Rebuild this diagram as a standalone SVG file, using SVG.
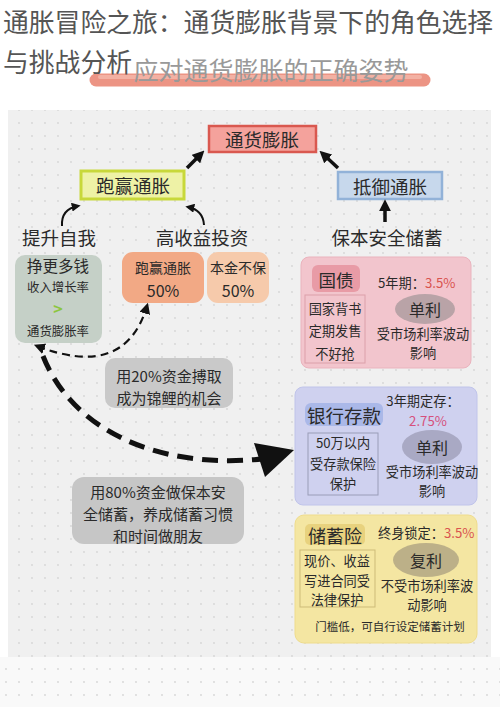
<svg xmlns="http://www.w3.org/2000/svg" width="500" height="707" viewBox="0 0 500 707">
<defs>
<pattern id="dots" x="0" y="0" width="13" height="13" patternUnits="userSpaceOnUse">
<circle cx="6" cy="6" r="0.9" fill="#d6d6d6"/>
</pattern>
<marker id="ah" viewBox="0 0 10 10" refX="7" refY="5" markerWidth="9" markerHeight="9" markerUnits="userSpaceOnUse" orient="auto">
<path d="M0,0 L10,5 L0,10 z" fill="#111"/>
</marker>
<marker id="ahs" viewBox="0 0 10 10" refX="7" refY="5" markerWidth="11" markerHeight="11" markerUnits="userSpaceOnUse" orient="auto-start-reverse">
<path d="M0,0 L10,5 L0,10 z" fill="#111"/>
</marker>
<marker id="ahb" viewBox="0 0 10 10" refX="6" refY="5" markerWidth="12" markerHeight="12" markerUnits="userSpaceOnUse" orient="auto">
<path d="M0,0 L10,5 L0,10 z" fill="#111"/>
</marker>
</defs>
<style>
text{font-family:"Noto Sans CJK SC","Noto Sans",sans-serif;fill:#2a2a2a;text-anchor:middle;dominant-baseline:central}
.t13{font-size:13.2px}
.t12{font-size:11.5px}
.hd{font-size:18.5px}
.bx{font-size:18.5px}
.lab{font-size:15px}
.red{fill:#d9534f}
.inner{fill:none;stroke-width:1}
.con{fill:none;stroke:#111}
</style>
<rect x="0" y="0" width="500" height="707" fill="#ffffff"/>
<rect x="0" y="657" width="500" height="50" fill="#f9f9f9"/>
<rect x="0" y="657" width="500" height="50" fill="url(#dots)"/>
<rect x="8" y="110" width="483" height="547" fill="#f0f0f0"/>
<rect x="8" y="110" width="483" height="547" fill="url(#dots)"/>

<g id="banner">
<line x1="96" y1="80" x2="424" y2="80" stroke="#e9826f" stroke-width="13" stroke-linecap="round" opacity="0.85"/>
<line x1="100" y1="77" x2="420" y2="77" stroke="#f3b1a3" stroke-width="4" stroke-linecap="round"/>
<text x="271" y="69" style="font-size:25px;fill:#999999">应对通货膨胀的正确姿势</text>
</g>
<g id="title">
<text x="3" y="20" style="font-size:25.8px;fill:#555555;text-anchor:start">通胀冒险之旅：通货膨胀背景下的角色选择</text>
<text x="3" y="60" style="font-size:25.8px;fill:#555555;text-anchor:start">与挑战分析</text>
</g>

<g id="node-inflation">
<rect x="209" y="126" width="107" height="26" fill="#f4a29c" stroke="#d9584f" stroke-width="2.5"/>
<text class="bx" x="262" y="139">通货膨胀</text>
</g>
<g id="node-beat">
<rect x="81" y="171" width="103" height="28" fill="#eef2a6" stroke="#c8d83a" stroke-width="3"/>
<text class="bx" x="133" y="185">跑赢通胀</text>
</g>
<g id="node-resist">
<rect x="338" y="172" width="104" height="27" fill="#c7d8ec" stroke="#92b2d8" stroke-width="2.5"/>
<text class="bx" x="390" y="185.5">抵御通胀</text>
</g>

<g id="node-self">
<text class="hd" x="59" y="237">提升自我</text>
</g>
<g id="node-highyield">
<text class="hd" x="202" y="237">高收益投资</text>
</g>
<g id="node-safe">
<text class="hd" x="387" y="237">保本安全储蓄</text>
</g>

<g id="node-earn">
<rect x="15" y="255" width="87" height="88" rx="10" fill="#c5d0c7"/>
<text x="58" y="265" style="font-size:15.5px">挣更多钱</text>
<text x="58" y="287" style="font-size:12.4px">收入增长率</text>
<text x="58" y="308" style="font-size:16px;font-weight:bold;fill:#8cc63f">&gt;</text>
<text x="58" y="330.5" style="font-size:12.4px">通货膨胀率</text>
</g>
<g id="node-beat50">
<rect x="122" y="252" width="82" height="51" rx="11" fill="#f2a985"/>
<text x="163" y="267" style="font-size:14px">跑赢通胀</text>
<text x="163" y="290" style="font-size:16px">50%</text>
</g>
<g id="node-lose50">
<rect x="207" y="252" width="62" height="51" rx="11" fill="#f6caab"/>
<text x="238" y="267" style="font-size:14px">本金不保</text>
<text x="238" y="290" style="font-size:16px">50%</text>
</g>

<g id="label-20">
<rect x="105" y="358" width="128" height="50" rx="10" fill="#c9c9c9"/>
<text class="lab" x="169" y="375">用20%资金搏取</text>
<text class="lab" x="169" y="397">成为锦鲤的机会</text>
</g>
<g id="label-80">
<rect x="72" y="477" width="172" height="67" rx="12" fill="#c6c6c6"/>
<text class="lab" x="158" y="491">用80%资金做保本安</text>
<text class="lab" x="158" y="513">全储蓄，养成储蓄习惯</text>
<text class="lab" x="158" y="535">和时间做朋友</text>
</g>

<g id="node-bond">
<rect x="301" y="257" width="170" height="111" rx="8" fill="#f2c5cd" stroke="#eab3bd" stroke-width="1"/>
<rect x="312" y="265" width="48" height="27" rx="6" fill="#e89ba6"/>
<text x="336" y="279" style="font-size:17.5px">国债</text>
<text class="t13" x="378" y="282" style="text-anchor:start">5年期：<tspan class="red">3.5%</tspan></text>
<rect class="inner" x="305" y="295" width="60" height="68" stroke="#dba0aa"/>
<text class="t13" x="335" y="308">国家背书</text>
<text class="t13" x="335" y="330">定期发售</text>
<text class="t13" x="335" y="353">不好抢</text>
<ellipse cx="425" cy="309" rx="30" ry="15" fill="#b9a3a7"/>
<text x="425" y="309" style="font-size:16px">单利</text>
<text class="t13" x="423" y="333">受市场利率波动</text>
<text class="t13" x="423" y="352.5">影响</text>
</g>

<g id="node-bank">
<rect x="295" y="387" width="182" height="118" rx="8" fill="#cfd1ef" stroke="#c0c4ea" stroke-width="1"/>
<rect x="305" y="403" width="78" height="23" rx="6" fill="#aab8e8"/>
<text x="344" y="414.5" style="font-size:18.5px">银行存款</text>
<text class="t13" x="423" y="400.5">3年期定存：</text>
<text class="t13" x="428" y="420" style="fill:#d6507c">2.75%</text>
<rect class="inner" x="308" y="433" width="70" height="62" stroke="#9a9db8"/>
<text class="t13" x="343" y="442">50万以内</text>
<text class="t13" x="343" y="463">受存款保险</text>
<text class="t13" x="343" y="483">保护</text>
<ellipse cx="432" cy="447" rx="30" ry="17" fill="#a9a9c4"/>
<text x="432" y="447" style="font-size:16px">单利</text>
<text class="t13" x="432" y="471">受市场利率波动</text>
<text class="t13" x="432" y="490.5">影响</text>
</g>

<g id="node-insurance">
<rect x="295" y="515" width="182" height="128" rx="9" fill="#f4e6a2" stroke="#efdc8c" stroke-width="1"/>
<rect x="305" y="524" width="60" height="21" rx="5" fill="#e8d27e"/>
<text x="335" y="534.5" style="font-size:18px">储蓄险</text>
<text class="t13" x="378" y="532" style="text-anchor:start">终身锁定：<tspan class="red">3.5%</tspan></text>
<rect class="inner" x="300" y="550" width="75" height="57" stroke="#cdbb78"/>
<text class="t13" x="337" y="560.5">现价、收益</text>
<text class="t13" x="337" y="580">写进合同受</text>
<text class="t13" x="337" y="599.5">法律保护</text>
<ellipse cx="426" cy="560" rx="33" ry="17" fill="#bcb088"/>
<text x="426" y="560" style="font-size:16px">复利</text>
<text class="t13" x="427" y="585">不受市场利率波</text>
<text class="t13" x="427" y="604.5">动影响</text>
<text class="t12" x="390" y="626">门槛低，可自行设定储蓄计划</text>
</g>

<g id="connectors">
<line class="con" x1="187" y1="168" x2="201" y2="154" stroke-width="3.5" marker-end="url(#ahb)"/>
<line class="con" x1="338" y1="168" x2="323" y2="154" stroke-width="3.5" marker-end="url(#ahb)"/>
<line class="con" x1="385" y1="222" x2="385" y2="204" stroke-width="3.5" marker-end="url(#ahb)"/>
<path class="con" d="M62,226 Q61,209 78,206" stroke-width="2" marker-end="url(#ah)"/>
<path class="con" d="M204,225 Q203,210 188,207" stroke-width="2" marker-end="url(#ah)"/>
<path class="con" d="M37,346 Q125,380 147,306" stroke-width="2.2" stroke-dasharray="8 5" marker-start="url(#ahs)" marker-end="url(#ahs)"/>
<path class="con" d="M43,356 C70,425 150,470 262,459" stroke-width="5" stroke-dasharray="16 9"/>
<polygon points="254,443 294,450 265,477" fill="#111"/>
</g>
</svg>
